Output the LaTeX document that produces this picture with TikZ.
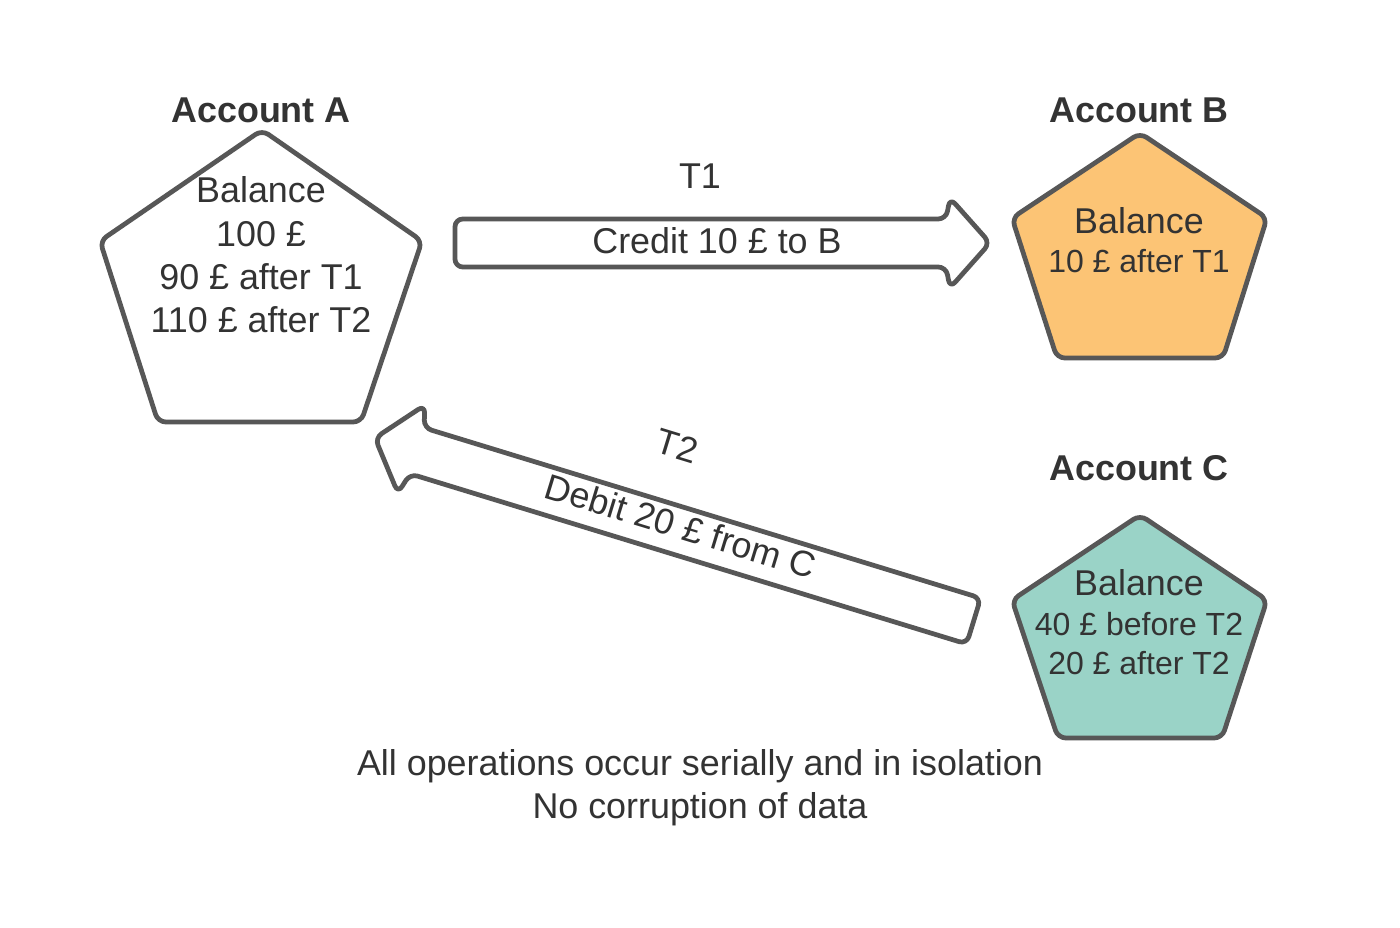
\documentclass[tikz,border=0pt]{standalone}
\usepackage{fontspec}
\setmainfont{Liberation Sans}
\usetikzlibrary{calc}
\definecolor{edge}{HTML}{575757}
\definecolor{txt}{HTML}{333333}
\definecolor{orangefill}{HTML}{FCC475}
\definecolor{tealfill}{HTML}{9AD3C7}
\begin{document}
\begin{tikzpicture}[x=0.01cm,y=-0.01cm,
  shapeline/.style={draw=edge, line width=1.35pt, rounded corners=2.2pt, line join=round},
  lbl/.style={text=txt, font=\fontsize{10.2}{12}\selectfont, inner sep=0pt, anchor=base},
  sml/.style={text=txt, font=\fontsize{9.1}{11}\selectfont, inner sep=0pt, anchor=base},
  ttl/.style={text=txt, font=\fontsize{10.2}{12}\selectfont\bfseries, inner sep=0pt, anchor=base},
  rlbl/.style={text=txt, font=\fontsize{10.2}{12}\selectfont, inner sep=0pt, anchor=center, rotate=-17},
]
\useasboundingbox[fill=white] (0,0) rectangle (1400,928);

% Account A pentagon
\draw[shapeline, fill=white] (260,422) -- (361,422) -- (422,241) -- (262,130) -- (100,241) -- (158,422) -- cycle;
% Account B pentagon
\draw[shapeline, fill=orangefill] (1140,358) -- (1223,358) -- (1267,218) -- (1140,133) -- (1012,218) -- (1057,358) -- cycle;
% Account C pentagon
\draw[shapeline, fill=tealfill] (1140,738) -- (1222,738) -- (1267,600) -- (1140,515) -- (1012,600) -- (1058,738) -- cycle;

% T1 block arrow
\coordinate (t1tip) at (990,243);
\coordinate (t1tail) at (455,243);
\begin{scope}[shift={(t1tip)}, rotate=180]
  \draw[shapeline, fill=white] (535,0) -- (535,-24) -- (44,-24) -- (40,-45) -- (0,0) -- (40,45) -- (44,24) -- (535,24) -- cycle;
\end{scope}

% T2 block arrow
\coordinate (t2tip) at (375,438);
\begin{scope}[shift={(t2tip)}, rotate=-17]
  \coordinate (t2tail) at (626,0);
  \draw[shapeline, fill=white] (626,0) -- (626,-24) -- (44,-24) -- (38,-46) -- (0,0) -- (38,46) -- (44,24) -- (626,24) -- cycle;
\end{scope}

% Titles
\node[ttl] (titleA) at (261,123) {Account A};
\node[ttl] (titleB) at (1139,123) {Account B};
\node[ttl] (titleC) at (1139,481) {Account C};

% Account A text
\node[lbl] (a1) at (261,203) {Balance};
\node[lbl] (a2) at (261,247) {100 £};
\node[lbl] (a3) at (261,290) {90 £ after T1};
\node[lbl] (a4) at (261,333) {110 £ after T2};

% Account B text
\node[lbl] (b1) at (1139,234) {Balance};
\node[sml] (b2) at (1139,273) {10 £ after T1};

% Account C text
\node[lbl] (c1) at (1139,596) {Balance};
\node[sml] (c2) at (1139,636) {40 £ before T2};
\node[sml] (c3) at (1139,675) {20 £ after T2};

% T1 labels
\node[lbl] (t1lbl) at (700,189) {T1};
\node[lbl] (t1txt) at (717,254) {Credit 10 £ to B};

% T2 labels
\node[rlbl] (t2lbl) at (677,446) {T2};
\node[rlbl] (t2txt) at (681,526) {Debit 20 £ from C};

% Bottom text
\node[lbl] (note1) at (700,775) {All operations occur serially and in isolation};
\node[lbl] (note2) at (700,818) {No corruption of data};
\end{tikzpicture}
\end{document}
